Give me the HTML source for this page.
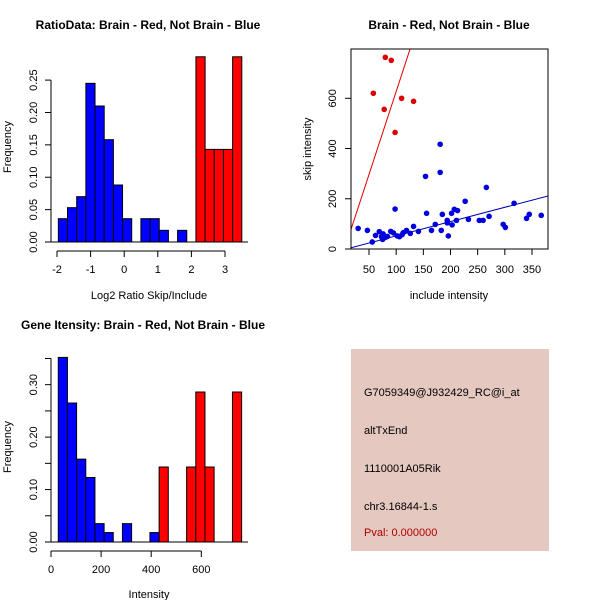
<!DOCTYPE html>
<html><head><meta charset="utf-8"><style>
body{margin:0;background:#fff;}
svg{display:block;font-family:"Liberation Sans",Arial,sans-serif;}
</style></head><body>
<svg id="c" width="600" height="600" xmlns="http://www.w3.org/2000/svg">
<rect x="0" y="0" width="600" height="600" fill="#fff"/>
<text x="148" y="29" font-size="12" font-weight="bold" text-anchor="middle">RatioData: Brain - Red, Not Brain - Blue</text>
<text x="449" y="29" font-size="12" font-weight="bold" text-anchor="middle">Brain - Red, Not Brain - Blue</text>
<text x="143" y="329" font-size="12" font-weight="bold" text-anchor="middle">Gene Itensity: Brain - Red, Not Brain - Blue</text>
<g id="p1"></g>
<g id="p2"></g>
<g id="p3"></g>
<g>
<rect x="351" y="349" width="198" height="202" fill="#e5c8c0"/>
<text x="364" y="396" font-size="11">G7059349@J932429_RC@i_at</text>
<text x="364" y="434" font-size="11">altTxEnd</text>
<text x="364" y="472" font-size="11">1110001A05Rik</text>
<text x="364" y="510" font-size="11">chr3.16844-1.s</text>
<text x="364" y="536" font-size="11" fill="#b00000">Pval: 0.000000</text>
</g>
</svg>
<script>
// ---- Plot 1: ratio histogram ----
const ratioBinStart = -1.96;
const ratioBinWidth = 0.273;
const ratioBlueFreq = [0.036,0.053,0.070,0.245,0.210,0.158,0.088,0.036,0,0.036,0.036,0.018,0,0.018];
const ratioRedIdx = [15,16,17,18,19];
const ratioRedFreq = [0.286,0.143,0.143,0.143,0.286];
const ratioXTicks = [-2,-1,0,1,2,3];
const ratioYTicks = ["0.00","0.05","0.10","0.15","0.20","0.25"];
// ---- Plot 2: scatter ----
const redX = [58,80,91,78,98,110,132];
const redY = [620,763,751,556,464,600,588];
const blueX = [30,47,56,62,69,73,75,76,80,84,90,95,98,102,106,111,113,119,126,132,141,154,156,165,172,181,181,183,185,194,194,196,202,203,207,213,211,227,233,253,260,266,271,297,301,317,340,345,367];
const blueY = [82,74,28,54,69,49,38,60,46,50,70,64,159,52,49,57,65,74,62,90,70,289,142,74,98,417,305,74,138,114,104,52,142,96,158,153,114,190,118,114,114,245,130,98,86,182,122,138,134];
const redFit = [-34,6.61];
const blueFit = [-4.7,0.569];
const scXTicks = [50,100,150,200,250,300,350];
const scYTicks = [0,200,400,600];
// ---- Plot 3: intensity histogram ----
const intBinStart = 29;
const intBinWidth = 36.6;
const intBlueIdx = [0,1,2,3,4,5,7,10];
const intBlueFreq = [0.352,0.265,0.158,0.123,0.035,0.018,0.035,0.018];
const intRedIdx = [11,14,15,16,19];
const intRedFreq = [0.143,0.143,0.286,0.143,0.286];
const intXTicks = [0,200,400,600];
const intYTicks = [0,0.05,0.10,0.15,0.20,0.25,0.30,0.35];
const intYLabels = ["0.00","","0.10","","0.20","","0.30",""];

const NS="http://www.w3.org/2000/svg";
function mk(parent,tag,attrs,txt){const e=document.createElementNS(NS,tag);for(const k in attrs)e.setAttribute(k,attrs[k]);if(txt!==undefined)e.textContent=txt;parent.appendChild(e);return e;}

// Plot 1
(function(){
const g=document.getElementById('p1');
const sx=v=>57+(v+2)*33.6, sy=v=>242-v*647.6;
function bar(i,f,col){
  const x0=sx(ratioBinStart+i*ratioBinWidth), x1=sx(ratioBinStart+(i+1)*ratioBinWidth);
  if(f<=0)return;
  const r=mk(g,'rect',{x:x0,y:sy(f),width:x1-x0,height:sy(0)-sy(f),fill:col,stroke:'#000','stroke-width':1});
  
  
}
ratioBlueFreq.forEach((f,i)=>bar(i,f,'#0000ff'));
ratioRedIdx.forEach((ix,k)=>bar(ix,ratioRedFreq[k],'#ff0000'));
mk(g,'line',{x1:51,y1:242,x2:248,y2:242,stroke:'#000'});
mk(g,'line',{x1:sx(-2),y1:251,x2:sx(3),y2:251,stroke:'#000'});
ratioXTicks.forEach(t=>{mk(g,'line',{x1:sx(t),y1:251,x2:sx(t),y2:257,stroke:'#000'});
  const l=mk(g,'text',{x:sx(t),y:273,'font-size':11,'text-anchor':'middle'},String(t));
  
  });
mk(g,'line',{x1:51,y1:sy(0),x2:51,y2:sy(0.25),stroke:'#000'});
ratioYTicks.forEach(t=>{const y=sy(parseFloat(t));mk(g,'line',{x1:45,y1:y,x2:51,y2:y,stroke:'#000'});
  const l=mk(g,'text',{x:37,y:y,'font-size':11,'text-anchor':'middle',transform:`rotate(-90 37 ${y})`},t);
  
  });
const xl=mk(g,'text',{x:149,y:299,'font-size':11,'text-anchor':'middle'},'Log2 Ratio Skip/Include');


const yl=mk(g,'text',{x:11,y:147,'font-size':11,'text-anchor':'middle',transform:'rotate(-90 11 147)'},'Frequency');


})();

// Plot 2
(function(){
const g=document.getElementById('p2');
const sx=v=>369+(v-50)*0.5433, sy=v=>249-v*0.2512;
const cp=mk(g,'clipPath',{id:'scclip'});mk(cp,'rect',{x:351,y:49,width:197,height:200});
const lg=mk(g,'g',{'clip-path':'url(#scclip)'});
const x0=16.9,x1=379.5;
const rl=mk(lg,'line',{x1:sx(x0),y1:sy(redFit[0]+redFit[1]*x0),x2:sx(x1),y2:sy(redFit[0]+redFit[1]*x1),stroke:'#dd0000'});


const bl=mk(lg,'line',{x1:sx(x0),y1:sy(blueFit[0]+blueFit[1]*x0),x2:sx(x1),y2:sy(blueFit[0]+blueFit[1]*x1),stroke:'#0000aa'});


blueX.forEach((x,i)=>{const c=mk(g,'circle',{cx:sx(x),cy:sy(blueY[i]),r:2.8,fill:'#0000dd'});
  
  });
redX.forEach((x,i)=>{const c=mk(g,'circle',{cx:sx(x),cy:sy(redY[i]),r:2.8,fill:'#dd0000'});
  
  });
mk(g,'rect',{x:351,y:49,width:197,height:200,fill:'none',stroke:'#000'});
scXTicks.forEach(t=>{mk(g,'line',{x1:sx(t),y1:249,x2:sx(t),y2:255,stroke:'#000'});
  const l=mk(g,'text',{x:sx(t),y:273,'font-size':11,'text-anchor':'middle'},String(t));
  
  });
scYTicks.forEach(t=>{const y=sy(t);mk(g,'line',{x1:345,y1:y,x2:351,y2:y,stroke:'#000'});
  const l=mk(g,'text',{x:336,y:y,'font-size':11,'text-anchor':'middle',transform:`rotate(-90 336 ${y})`},String(t));
  
  });
const xl=mk(g,'text',{x:449,y:299,'font-size':11,'text-anchor':'middle'},'include intensity');


const yl=mk(g,'text',{x:311,y:149,'font-size':11,'text-anchor':'middle',transform:'rotate(-90 311 149)'},'skip intensity');


})();

// Plot 3
(function(){
const g=document.getElementById('p3');
const sx=v=>51+v*0.2505, sy=v=>542-v*524.4;
function bar(i,f,col){
  const x0=sx(intBinStart+i*intBinWidth), x1=sx(intBinStart+(i+1)*intBinWidth);
  const r=mk(g,'rect',{x:x0,y:sy(f),width:x1-x0,height:sy(0)-sy(f),fill:col,stroke:'#000','stroke-width':1});
  
  
}
intBlueIdx.forEach((ix,k)=>bar(ix,intBlueFreq[k],'#0000ff'));
intRedIdx.forEach((ix,k)=>bar(ix,intRedFreq[k],'#ff0000'));
mk(g,'line',{x1:51,y1:542,x2:248,y2:542,stroke:'#000'});
mk(g,'line',{x1:sx(0),y1:551,x2:sx(600),y2:551,stroke:'#000'});
intXTicks.forEach(t=>{mk(g,'line',{x1:sx(t),y1:551,x2:sx(t),y2:557,stroke:'#000'});
  const l=mk(g,'text',{x:sx(t),y:573,'font-size':11,'text-anchor':'middle'},String(t));
  
  });
mk(g,'line',{x1:51,y1:sy(0),x2:51,y2:sy(0.35),stroke:'#000'});
intYTicks.forEach((t,i)=>{const y=sy(t);mk(g,'line',{x1:45,y1:y,x2:51,y2:y,stroke:'#000'});
  if(intYLabels[i]){const l=mk(g,'text',{x:37,y:y,'font-size':11,'text-anchor':'middle',transform:`rotate(-90 37 ${y})`},intYLabels[i]);
  
  }});
const xl=mk(g,'text',{x:149,y:598,'font-size':11,'text-anchor':'middle'},'Intensity');


const yl=mk(g,'text',{x:11,y:447,'font-size':11,'text-anchor':'middle',transform:'rotate(-90 11 447)'},'Frequency');


})();
</script>
</body></html>
